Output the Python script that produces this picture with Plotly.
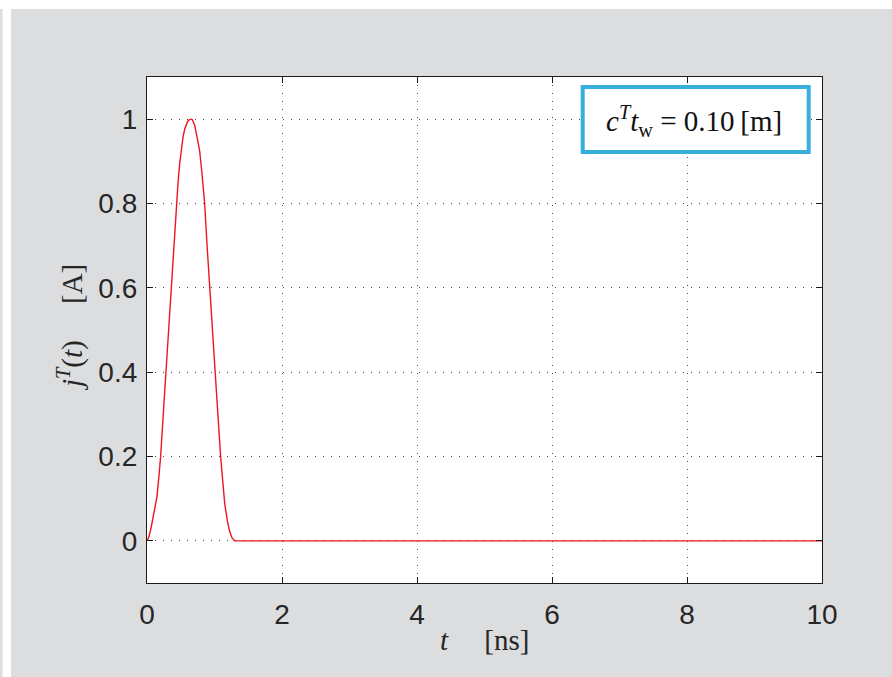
import plotly.graph_objects as go

# Data
t_ns = [0, 0.03, 0.064, 0.105, 0.148, 0.175, 0.202, 0.241, 0.281, 0.318, 0.356, 0.395, 0.435,
        0.46, 0.484, 0.51, 0.533, 0.558, 0.583, 0.60, 0.62, 0.64, 0.655, 0.67, 0.69, 0.705,
        0.72, 0.75, 0.78, 0.815, 0.854, 0.89, 0.928, 0.97, 1.012, 1.05, 1.091, 1.12,
        1.151, 1.19, 1.225, 1.26, 1.285, 1.30, 10]
j_A = [0, 0.01, 0.034, 0.065, 0.105, 0.15, 0.2, 0.3, 0.4, 0.5, 0.6, 0.7, 0.8,
       0.85, 0.894, 0.93, 0.957, 0.976, 0.988, 0.994, 0.998, 1.0, 1.0, 0.999, 0.993, 0.986,
       0.975, 0.953, 0.925, 0.87, 0.8, 0.7, 0.6, 0.5, 0.4, 0.3, 0.2, 0.14,
       0.089, 0.048, 0.022, 0.007, 0.002, 0, 0]

x_ticks = [0, 2, 4, 6, 8, 10]
y_ticks = [0, 0.2, 0.4, 0.6, 0.8, 1]
y_tick_text = ["0", "0.2", "0.4", "0.6", "0.8", "1"]
legend_text = "<i>c</i><sup><i>T</i></sup><i>t</i><sub>w</sub>\u00a0=\u00a00.10\u2009[m]"
x_title = "<i>t</i>\u00a0\u00a0\u00a0\u00a0\u00a0[ns]"
y_title = "<i>j</i><sup><i>T</i></sup>(<i>t</i>)\u00a0\u00a0\u00a0\u00a0\u00a0[A]"

GRAY = "#dcdddf"
SANS = "Liberation Sans, Arial, sans-serif"
SERIF = "Liberation Serif, DejaVu Serif, serif"

fig = go.Figure()
fig.add_trace(go.Scatter(x=t_ns, y=j_A, mode="lines",
                         line=dict(color="#f0141e", width=1.4),
                         showlegend=False, hoverinfo="skip"))

axis_common = dict(showline=True, linecolor="#1a1a1a", linewidth=1.2,
                   mirror="ticks", ticks="inside", ticklen=6, tickcolor="#1a1a1a",
                   showgrid=True, gridcolor="#4a4a4a", gridwidth=1, griddash="1px,7px",
                   zeroline=False, tickfont=dict(family=SANS, size=28, color="#262626"))

fig.update_layout(
    width=892, height=677,
    margin=dict(l=147, r=70, t=77, b=94, autoexpand=False),
    paper_bgcolor=GRAY, plot_bgcolor="white",
    xaxis=dict(range=[0, 10], tickvals=x_ticks, ticktext=[str(v) for v in x_ticks],
               ticklabelstandoff=6, **axis_common),
    yaxis=dict(range=[-0.1, 1.1], tickvals=y_ticks, ticktext=y_tick_text,
               ticklabelstandoff=3, **axis_common),
)

# white strips at top and left of the figure
fig.add_shape(type="rect", xref="paper", yref="paper",
              x0=-0.3, x1=1.2, y0=(583 - 9) / 506, y1=1.3,
              fillcolor="white", line=dict(width=0), layer="above")
fig.add_shape(type="rect", xref="paper", yref="paper",
              x0=(2.5 - 147) / 675, x1=(11 - 147) / 675, y0=-0.3, y1=1.3,
              fillcolor="white", line=dict(width=0), layer="above")

# legend box
fig.add_shape(type="rect", xref="paper", yref="paper",
              x0=(582.7 - 147) / 675, x1=(808.7 - 147) / 675,
              y0=(583 - 152) / 506, y1=(583 - 87) / 506,
              fillcolor="white", line=dict(color="#37aedb", width=4), layer="above")
fig.add_annotation(xref="paper", yref="paper", x=(694 - 147) / 675, y=(583 - 121) / 506,
                   text=legend_text, showarrow=False, xanchor="center", yanchor="middle",
                   font=dict(family=SERIF, size=29, color="#111111"))

# axis titles
fig.add_annotation(xref="paper", yref="paper", x=(484 - 147) / 675, y=(583 - 640) / 506,
                   text=x_title, showarrow=False,
                   xanchor="center", yanchor="middle",
                   font=dict(family=SERIF, size=29, color="#262626"))
fig.add_annotation(xref="paper", yref="paper", x=(70 - 147) / 675, y=(583 - 328) / 506,
                   text=y_title,
                   textangle=-90, showarrow=False, xanchor="center", yanchor="middle",
                   font=dict(family=SERIF, size=29, color="#262626"))

fig.write_html("out.html", config={"displayModeBar": False},
               post_script="document.body.style.margin='0';")
